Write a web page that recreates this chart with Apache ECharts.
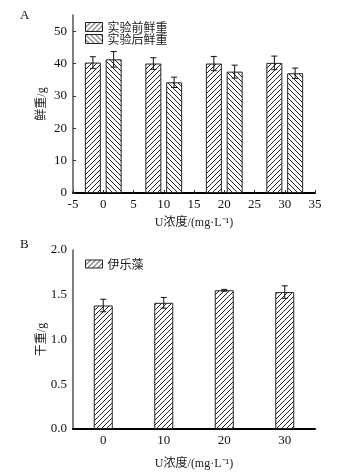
<!DOCTYPE html>
<html>
<head>
<meta charset="utf-8">
<script src="https://cdn.jsdelivr.net/npm/echarts@6/dist/echarts.min.js"></script>
<style>
  html, body { margin: 0; padding: 0; background: #fff; }
  #main { width: 343px; height: 472px; }
</style>
</head>
<body>
<div id="main"></div>
<script>
// chart A: fresh weight
var concA = [0, 10, 20, 30];
var beforeFresh = [40.3, 40.0, 40.0, 40.2];
var beforeErr = [1.8, 1.8, 2.2, 2.1];
var afterFresh = [41.3, 34.2, 37.5, 37.0];
var afterErr = [2.4, 1.6, 2.0, 1.6];
var yTicksA = [0, 10, 20, 30, 40, 50];

// chart B: dry weight
var concB = [0, 10, 20, 30];
var dryWeight = [1.38, 1.41, 1.55, 1.53];
var dryErr = [0.07, 0.06, 0.01, 0.07];
var xLabelsB = [0, 10, 20, 30];

var serifFont = '"Liberation Serif", "Noto Sans CJK SC", serif';

function hatch(dir) {
    var s = 5;
    var c = document.createElement('canvas');
    c.width = s; c.height = s;
    var ctx = c.getContext('2d');
    ctx.fillStyle = '#fff';
    ctx.fillRect(0, 0, s, s);
    ctx.strokeStyle = '#222';
    ctx.lineWidth = 1;
    ctx.beginPath();
    if (dir > 0) {
        ctx.moveTo(-1, s + 1); ctx.lineTo(s + 1, -1);
        ctx.moveTo(-1, 1); ctx.lineTo(1, -1);
        ctx.moveTo(s - 1, s + 1); ctx.lineTo(s + 1, s - 1);
    } else {
        ctx.moveTo(-1, -1); ctx.lineTo(s + 1, s + 1);
        ctx.moveTo(s - 1, -1); ctx.lineTo(s + 1, 1);
        ctx.moveTo(-1, s - 1); ctx.lineTo(1, s + 1);
    }
    ctx.stroke();
    return { image: c, repeat: 'repeat' };
}

function pairs(xs, ys) {
    return xs.map(function (x, i) { return [x, ys[i]]; });
}
function triples(xs, ys, es) {
    return xs.map(function (x, i) { return [x, ys[i], es[i]]; });
}

// error bar drawn at the bar centre (shift in px matches barWidth/barGap)
function errorBar(shift) {
    return function (params, api) {
        var x = api.value(0), y = api.value(1), e = api.value(2);
        var hi = api.coord([x, y + e]);
        var lo = api.coord([x, y - e]);
        var cx = hi[0] + shift;
        var st = { stroke: '#111', lineWidth: 1 };
        return {
            type: 'group',
            children: [
                { type: 'line', shape: { x1: cx, y1: hi[1], x2: cx, y2: lo[1] }, style: st },
                { type: 'line', shape: { x1: cx - 3, y1: hi[1], x2: cx + 3, y2: hi[1] }, style: st },
                { type: 'line', shape: { x1: cx - 3, y1: lo[1], x2: cx + 3, y2: lo[1] }, style: st }
            ]
        };
    };
}

var myChart = echarts.init(document.getElementById('main'), null, { renderer: 'canvas' });

var axisLabelStyle = { color: '#111', fontSize: 13, fontFamily: serifFont };
var nameStyle = { color: '#222', fontSize: 12, fontFamily: serifFont };
var legendText = { fontSize: 12, lineHeight: 12, color: '#222', fontFamily: '"Noto Sans CJK SC"' };

var option = {
    animation: false,
    backgroundColor: '#fff',
    graphic: [
        { type: 'text', left: 20, top: 9, style: { text: 'A', font: '13px ' + serifFont, fill: '#111' } },
        { type: 'text', left: 20, top: 238, style: { text: 'B', font: '13px ' + serifFont, fill: '#111' } }
    ],
    legend: [
        {
            orient: 'vertical', left: 83, top: 19, padding: 2, itemWidth: 17, itemHeight: 9, itemGap: 0,
            icon: 'rect', textStyle: legendText, itemStyle: { borderColor: '#222', borderWidth: 1 },
            data: ['实验前鲜重', '实验后鲜重']
        },
        {
            orient: 'vertical', left: 83, top: 256, padding: 2, itemWidth: 17, itemHeight: 8,
            icon: 'rect', textStyle: legendText, itemStyle: { borderColor: '#222', borderWidth: 1 },
            data: ['伊乐藻']
        }
    ],
    grid: [
        { left: 73, top: 15, width: 242, height: 178 },
        { left: 73, top: 250, width: 242, height: 179 }
    ],
    xAxis: [
        {
            gridIndex: 0, type: 'value', min: -5, max: 35, interval: 5,
            name: 'U浓度/(mg·L⁻¹)', nameLocation: 'middle', nameGap: 24, nameTextStyle: nameStyle,
            axisLine: { show: true, onZero: false, lineStyle: { color: '#000', width: 2 } },
            axisTick: { show: true, inside: true, length: 3, lineStyle: { color: '#333' } },
            axisLabel: Object.assign({ margin: 5 }, axisLabelStyle),
            splitLine: { show: false }
        },
        {
            gridIndex: 1, type: 'value', min: -5, max: 35, interval: 5,
            name: 'U浓度/(mg·L⁻¹)', nameLocation: 'middle', nameGap: 29, nameTextStyle: nameStyle,
            axisLine: { show: true, onZero: false, lineStyle: { color: '#000', width: 2 } },
            axisTick: { show: false },
            axisLabel: Object.assign({ margin: 5, customValues: xLabelsB }, axisLabelStyle),
            splitLine: { show: false }
        }
    ],
    yAxis: [
        {
            gridIndex: 0, type: 'value', min: 0, max: 55, interval: 10,
            name: '鲜重/g', nameLocation: 'middle', nameGap: 25, nameMoveOverlap: false, nameTextStyle: nameStyle,
            axisLine: { show: true, onZero: false, lineStyle: { color: '#555', width: 1.5 } },
            axisTick: { show: true, inside: true, length: 3, customValues: yTicksA, lineStyle: { color: '#333' } },
            axisLabel: Object.assign({ margin: 6, customValues: yTicksA }, axisLabelStyle),
            splitLine: { show: false }
        },
        {
            gridIndex: 1, type: 'value', min: 0, max: 2, interval: 0.5,
            name: '干重/g', nameLocation: 'middle', nameGap: 25, nameMoveOverlap: false, nameTextStyle: nameStyle,
            axisLine: { show: true, onZero: false, lineStyle: { color: '#555', width: 1.5 } },
            axisTick: { show: false },
            axisLabel: Object.assign({ margin: 6, formatter: function (v) { return v.toFixed(1); } }, axisLabelStyle),
            splitLine: { show: false }
        }
    ],
    series: [
        {
            name: '实验前鲜重', type: 'bar', xAxisIndex: 0, yAxisIndex: 0,
            barWidth: 16, barGap: '30%',
            itemStyle: { color: hatch(1), borderColor: '#222', borderWidth: 1 },
            data: pairs(concA, beforeFresh)
        },
        {
            name: '实验后鲜重', type: 'bar', xAxisIndex: 0, yAxisIndex: 0,
            barWidth: 16, barGap: '30%',
            itemStyle: { color: hatch(-1), borderColor: '#222', borderWidth: 1 },
            data: pairs(concA, afterFresh)
        },
        {
            type: 'custom', xAxisIndex: 0, yAxisIndex: 0, z: 5,
            renderItem: errorBar(-10.4),
            data: triples(concA, beforeFresh, beforeErr)
        },
        {
            type: 'custom', xAxisIndex: 0, yAxisIndex: 0, z: 5,
            renderItem: errorBar(10.4),
            data: triples(concA, afterFresh, afterErr)
        },
        {
            name: '伊乐藻', type: 'bar', xAxisIndex: 1, yAxisIndex: 1,
            barWidth: 19,
            itemStyle: { color: hatch(1), borderColor: '#222', borderWidth: 1 },
            data: pairs(concB, dryWeight)
        },
        {
            type: 'custom', xAxisIndex: 1, yAxisIndex: 1, z: 5,
            renderItem: errorBar(0),
            data: triples(concB, dryWeight, dryErr)
        }
    ]
};

if (option)
    myChart.setOption(option);
</script>
</body>
</html>
